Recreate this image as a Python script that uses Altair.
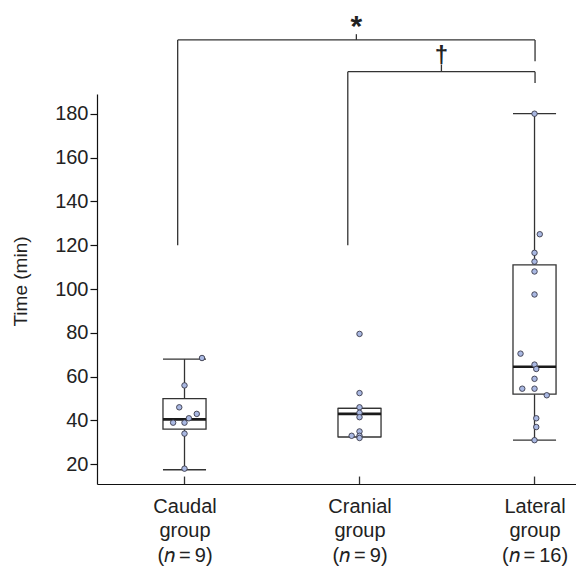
import altair as alt
import pandas as pd

# ---------------- data ----------------
groups = ["Caudal", "Cranial", "Lateral"]
group_pos = [1, 2, 3]
n_sizes = [9, 9, 16]

q1 = [36, 32.5, 52]
median = [40.5, 43, 64.5]
q3 = [50, 45.5, 111]
whisker_low = [17.5, 32.5, 31]
whisker_high = [68, 45.5, 180]

caudal_vals = [68.5, 56, 46, 43, 41, 39, 39, 34, 18]
caudal_jit = [0.10, 0, -0.03, 0.07, 0.025, -0.065, 0, 0, 0]
cranial_vals = [79.5, 52.5, 46, 43.5, 41.5, 35, 33, 33, 32]
cranial_jit = [0, 0, 0, 0, 0, 0, -0.045, 0, 0]
lateral_vals = [180, 125, 116.5, 112.5, 108, 97.5, 70.5, 65.5, 63.5, 59, 54.5, 54.5, 51.5, 41, 37, 31]
lateral_jit = [0, 0.03, 0, 0, 0, 0, -0.08, 0, 0.01, 0, -0.07, 0, 0.07, 0.01, 0.01, 0]

y_ticks = [20, 40, 60, 80, 100, 120, 140, 160, 180]

# significance brackets
sig_left = [0.961, 1.933]
sig_right = [3.003, 3.003]
sig_level = [213.7, 199.2]
sig_left_end = [120, 120]
sig_right_end = [204, 194]
sig_symbol = ["*", "\u2020"]
sig_stub = [2.6, 3.2]
sig_text_off = [6.0, 7.0]
sig_size = [30, 24]

# ---------------- styling constants ----------------
box_half = 0.123
line_col = "#333333"
font = "Liberation Sans"

# ---------------- tables ----------------
boxes = pd.DataFrame({"group": groups, "x": [p - box_half for p in group_pos],
                      "x2": [p + box_half for p in group_pos], "y": q1, "y2": q3})
medians = pd.DataFrame({"x": [p - box_half for p in group_pos],
                        "x2": [p + box_half for p in group_pos], "y": median})

segs = []
for i, p in enumerate(group_pos):
    segs.append(dict(x=p, x2=p, y=q3[i], y2=whisker_high[i]))
    segs.append(dict(x=p, x2=p, y=q1[i], y2=whisker_low[i]))
    segs.append(dict(x=p - box_half, x2=p + box_half, y=whisker_high[i], y2=whisker_high[i]))
    segs.append(dict(x=p - box_half, x2=p + box_half, y=whisker_low[i], y2=whisker_low[i]))
    segs.append(dict(x=p, x2=p, y=11, y2=14.4))
texts = []
for i in range(len(sig_symbol)):
    l, r, lev = sig_left[i], sig_right[i], sig_level[i]
    mid = (l + r) / 2
    segs.append(dict(x=l, x2=r, y=lev, y2=lev))
    segs.append(dict(x=l, x2=l, y=lev, y2=sig_left_end[i]))
    segs.append(dict(x=r, x2=r, y=lev, y2=sig_right_end[i]))
    segs.append(dict(x=mid, x2=mid, y=lev, y2=lev + sig_stub[i]))
    texts.append(dict(x=mid, y=lev + sig_text_off[i], t=sig_symbol[i], s=sig_size[i]))
segs = pd.DataFrame(segs)
texts = pd.DataFrame(texts)

pts = []
for p, vals, jit in [(1, caudal_vals, caudal_jit), (2, cranial_vals, cranial_jit), (3, lateral_vals, lateral_jit)]:
    for v, j in zip(vals, jit):
        pts.append(dict(x=p + j, y=v))
pts = pd.DataFrame(pts)

# ---------------- scales / axes ----------------
xs = alt.Scale(domain=[0.5, 3.237], nice=False, zero=False)
ys = alt.Scale(domain=[11, 189], nice=False, zero=False)

label_expr = ("datum.value == 1 ? ['Caudal', 'group', '(\U0001D45B\u2009=\u20099)'] : "
              "datum.value == 2 ? ['Cranial', 'group', '(\U0001D45B\u2009=\u20099)'] : "
              "['Lateral', 'group', '(\U0001D45B\u2009=\u200916)']")

x_axis = alt.Axis(values=group_pos, labelExpr=label_expr, ticks=False, grid=False,
                  domainColor="#111111", domainWidth=1.2, labelFont=font, labelFontSize=20,
                  labelLineHeight=24.5, labelPadding=12, labelColor="#222222", labelAngle=0,
                  title=None)
y_axis = alt.Axis(values=y_ticks, tickSize=7, tickColor="#111111", tickWidth=1.2,
                  domainColor="#111111", domainWidth=1.2, grid=False, labelFont=font,
                  labelFontSize=20, labelPadding=2, labelColor="#222222",
                  title="Time (min)", titleFont=font, titleFontSize=19,
                  titleFontWeight="normal", titleColor="#222222", titlePadding=24,
                  titleY=187)

X = alt.X("x:Q", scale=xs, axis=x_axis)
Y = alt.Y("y:Q", scale=ys, axis=y_axis)

rules = alt.Chart(segs).mark_rule(color=line_col, strokeWidth=1.3).encode(
    x=X, x2="x2:Q", y=Y, y2="y2:Q")
box = alt.Chart(boxes).mark_rect(fill="white", stroke=line_col, strokeWidth=1.3).encode(
    x=X, x2="x2:Q", y=Y, y2="y2:Q")
med = alt.Chart(medians).mark_rule(color="#1a1a1a", strokeWidth=2.6).encode(
    x=X, x2="x2:Q", y=Y)
dots = alt.Chart(pts).mark_circle(size=30, fill="#a9b8e2", stroke="#3a3a4a",
                                  strokeWidth=0.9, opacity=1).encode(x=X, y=Y)
sig = alt.Chart(texts).mark_text(font=font, color="#222222", fontWeight="bold",
                                 baseline="middle", align="center").encode(
    x=X, y=Y, text="t:N", size=alt.Size("s:Q", scale=None, legend=None))

chart = alt.layer(rules, box, med, dots, sig).properties(
    width=479, height=390,
    autosize=alt.AutoSizeParams(type="none"),
    padding={"left": 89, "top": 86, "right": 0, "bottom": 84},
).configure_view(stroke=None)

chart.save("out.html", embed_options={"renderer": "svg", "actions": False})
